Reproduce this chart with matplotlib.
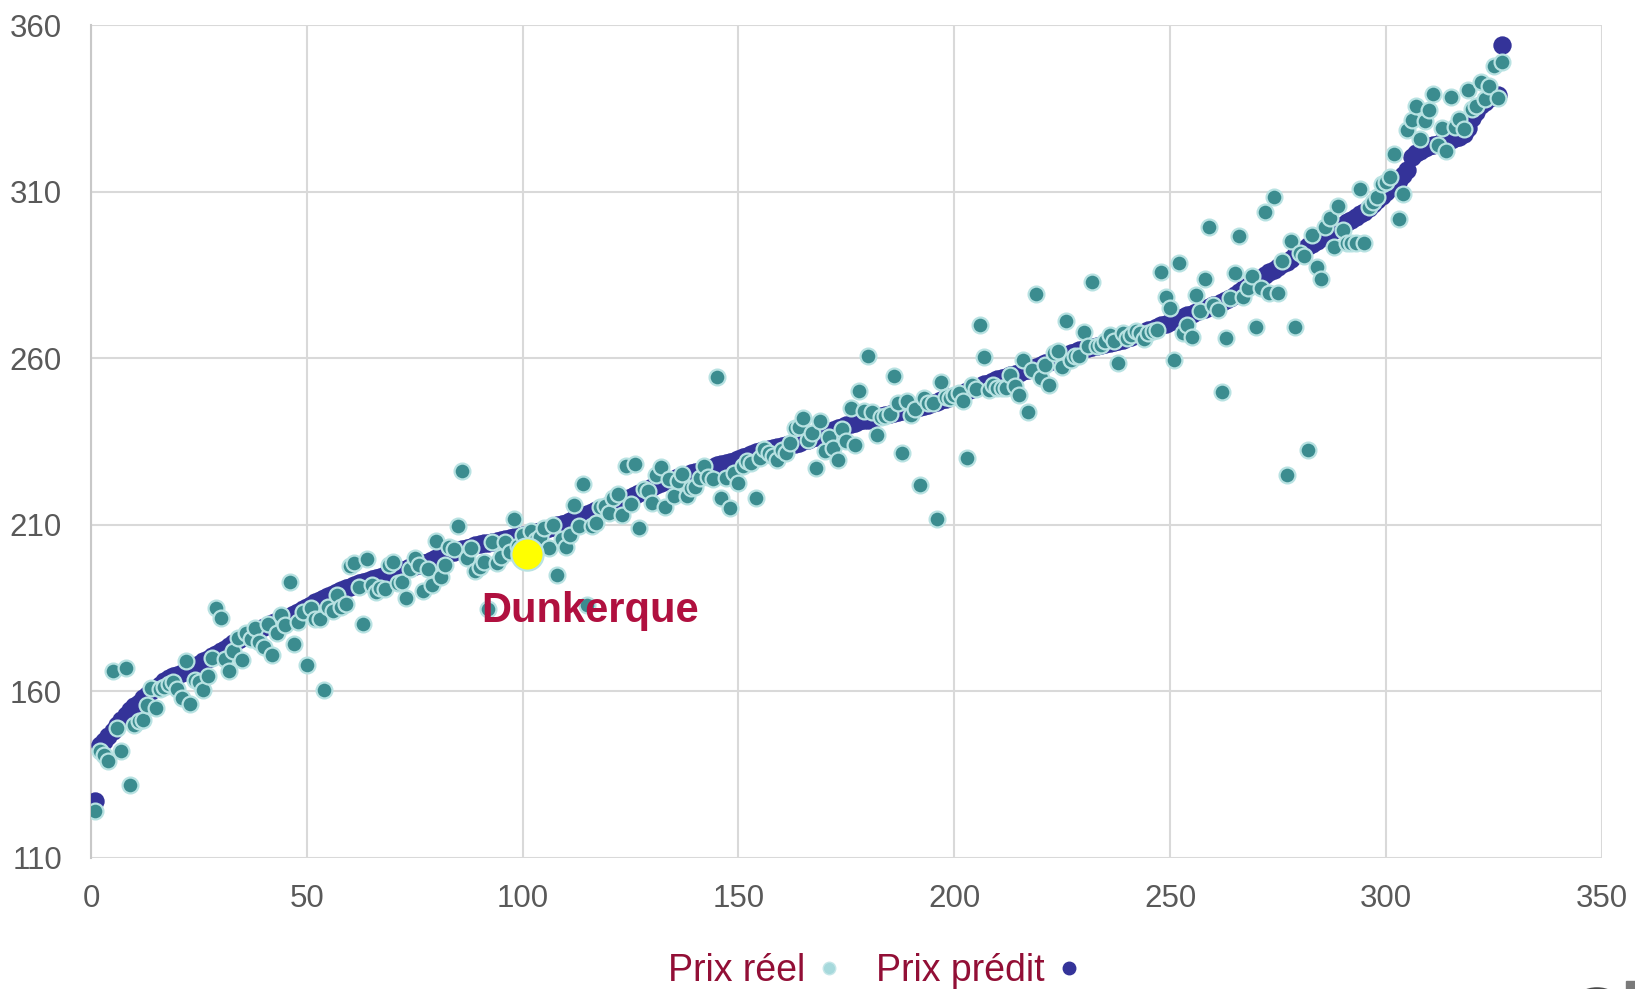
import numpy as np
import matplotlib
matplotlib.use("Agg")
import matplotlib.pyplot as plt
from matplotlib.lines import Line2D
from matplotlib.patches import Circle, Rectangle

# ======= DATOS =======
rang = list(range(1, 328))

prix_predit = [
    127, 144, 145, 146.5, 148, 150, 151.5, 153, 154.5, 155.5,
    156.5, 158, 159, 160, 161, 162, 163, 164, 164.5, 165,
    165.6, 166.2, 166.8, 167.5, 168.3, 169, 169.7, 170.5, 171.2, 172,
    172.8, 173.6, 174.5, 175.3, 176.1, 177, 177.6, 178.2, 178.8, 179.4,
    180, 180.5, 181, 181.5, 182, 182.5, 183.2, 183.9, 184.6, 185.3,
    186, 186.7, 187.3, 188, 188.6, 189.2, 189.7, 190.3, 190.9, 191.4,
    192, 192.4, 192.8, 193.2, 193.6, 194, 194.4, 194.8, 195.2, 195.6,
    196, 196.4, 196.8, 197.2, 197.6, 198, 198.4, 198.9, 199.4, 199.9,
    200.4, 200.9, 201.4, 201.9, 202.3, 202.7, 203.1, 203.4, 203.8, 204.1,
    204.4, 204.6, 204.9, 205.2, 205.5, 205.8, 206, 206.3, 206.5, 206.8,
    207, 207.3, 207.7, 208.1, 208.5, 209, 209.4, 209.8, 210.2, 210.6,
    211.1, 211.6, 212.1, 212.7, 213.2, 213.7, 214.3, 214.8, 215.3, 215.8,
    216.3, 216.8, 217.3, 217.8, 218.3, 218.8, 219.4, 220, 220.6, 221.2,
    221.8, 222.4, 223, 223.4, 223.8, 224.2, 224.6, 225, 225.4, 225.8,
    226.2, 226.6, 227, 227.4, 227.8, 228.2, 228.5, 228.8, 229.2, 229.7,
    230.2, 230.7, 231.2, 231.7, 232.1, 232.5, 232.8, 233, 233.3, 233.5,
    233.8, 234, 234.3, 234.6, 235, 235.4, 235.9, 236.4, 236.9, 237.4,
    237.9, 238.4, 238.9, 239.4, 239.8, 240.2, 240.6, 241, 241.3, 241.6,
    242, 242.3, 242.6, 243, 243.3, 243.6, 244, 244.3, 244.6, 244.9,
    245.2, 245.5, 245.8, 246.1, 246.5, 247, 247.4, 247.8, 248.3, 248.8,
    249.3, 249.7, 250.2, 250.7, 251.2, 251.7, 252.2, 252.7, 253.2, 253.7,
    254.1, 254.5, 254.9, 255.3, 255.7, 256.1, 256.5, 257, 257.5, 258,
    258.5, 259, 259.5, 260, 260.5, 261, 261.5, 262, 262.4, 262.8,
    263.1, 263.4, 263.7, 264, 264.3, 264.6, 264.9, 265.2, 265.6, 266,
    266.4, 266.9, 267.4, 267.9, 268.4, 268.9, 269.4, 269.9, 270.4, 270.9,
    271.4, 271.9, 272.4, 272.9, 273.4, 273.9, 274.4, 274.9, 275.4, 275.9,
    276.4, 276.9, 277.4, 278, 278.9, 279.8, 280.7, 281.6, 282.5, 283.4,
    284.2, 285, 285.8, 286.6, 287.4, 288.2, 289, 289.9, 290.9, 292,
    292.8, 293.6, 294.4, 295.2, 296, 296.8, 297.6, 298.4, 299.2, 300,
    300.8, 301.6, 302.4, 303.2, 304, 305.2, 306.4, 307.6, 308.8, 310,
    311.2, 312.4, 313.6, 315, 316.4, 320.5, 321.5, 322.3, 323, 323.6,
    324, 324.4, 324.8, 325.2, 325.6, 326, 326.5, 327.2, 329, 332,
    334, 336, 337, 338, 338.5, 339, 354,
]

prix_reel = [
    124, 142, 141, 139, 166, 149, 142, 167, 132, 150,
    151, 151.5, 156, 161, 155, 160.7, 161.2, 162.2, 162.7, 160.7,
    158, 169, 156.2, 163.5, 162.7, 160.5, 164.7, 170, 185, 182,
    169.6, 166, 172, 176, 169.3, 177.5, 175.6, 179, 174.8, 173.3,
    180.3, 170.8, 177.5, 182.8, 180, 192.8, 174.3, 180.8, 183.8, 168,
    185, 181.8, 181.8, 160.5, 185.3, 184, 189, 185.3, 186.3, 197.7,
    198.4, 191.3, 180.3, 199.7, 192, 189.8, 191, 190.6, 197.9, 198.9,
    192.5, 192.8, 188, 196.7, 200, 198, 190, 196.8, 192, 205.1,
    194.3, 198, 203.4, 202.7, 209.7, 226.2, 199.9, 202.9, 196, 197.3,
    198.9, 184.8, 204.9, 198.4, 200.4, 204.9, 201.7, 211.7, 203.5, 206.9,
    201.1, 208, 205.5, 206.4, 209.1, 202.9, 209.9, 194.8, 205.7, 203.2,
    206.9, 216, 209.7, 222.3, 185.8, 209.7, 210.4, 215.4, 215.7, 213.4,
    217.9, 219.1, 212.9, 227.5, 216.1, 228.2, 209.1, 220.8, 220.2, 216.4,
    224.9, 227.3, 215.4, 223.8, 218.7, 223, 225.2, 218.7, 220.9, 221.4,
    224, 227.5, 224.2, 223.8, 254.3, 217.9, 224, 214.9, 225.5, 222.5,
    227.5, 229, 228.5, 218, 230, 232.8, 231.5, 230.5, 229.5, 232.5,
    231.5, 234.5, 239, 239.2, 242.2, 235.5, 237.5, 227, 241, 232,
    236.2, 233, 229.5, 238.8, 235, 245.2, 233.8, 250.3, 244.3, 260.6,
    243.8, 237, 242.5, 242.8, 243.2, 254.6, 246.5, 231.5, 247.3, 243,
    244.9, 221.8, 248.1, 246.6, 246.6, 211.7, 252.9, 248.3, 248, 249,
    249.5, 247.3, 230, 252.1, 250.9, 270, 260.3, 250.5, 252.1, 251,
    251, 251, 255.1, 251.6, 248.9, 259.6, 244, 256.6, 279.2, 254,
    258, 252.1, 261.6, 262.3, 257.3, 271.1, 259.6, 260.6, 260.8, 267.9,
    263.6, 283, 263.6, 264.1, 265.1, 267.1, 265.1, 258.6, 267.6, 266.1,
    266.9, 268.3, 267.5, 265.9, 267.6, 268.1, 268.6, 286, 278.4, 275,
    259.6, 288.7, 267.6, 270.1, 266.3, 279, 274.2, 283.9, 299.5, 276,
    274.4, 249.9, 266.1, 278, 285.5, 296.7, 278.4, 281.2, 284.8, 269.4,
    281.2, 303.8, 279.7, 308.5, 279.7, 289.2, 225, 295.1, 269.4, 291.7,
    290.7, 232.5, 297, 287.5, 283.7, 299.5, 302.1, 293.4, 305.8, 298.6,
    294.7, 294.7, 294.7, 310.8, 294.7, 305.3, 306.8, 308.3, 312.3, 312.8,
    314.5, 321.4, 301.8, 309.3, 328.4, 331.6, 335.6, 325.9, 331.2, 334.6,
    339.4, 323.9, 329.1, 322.1, 338.4, 329.4, 331.9, 328.7, 340.4, 334.9,
    335.6, 342.8, 337.9, 341.6, 347.7, 338.2, 348.8,
]

ville = "Dunkerque"
rang_ville = 101
prix_ville = 201.1

x_ticks = [0, 50, 100, 150, 200, 250, 300, 350]
y_ticks = [110, 160, 210, 260, 310, 360]

# ======= ESTILO =======
BLEU = "#343399"
SARCELLE = "#3b8c8f"
BORD = "#b8e2e2"
GRILLE = "#d9d9d9"
TEXTE = "#595959"
ROUGE = "#b0103f"
ROUGE_LEG = "#920f36"

plt.rcParams["font.family"] = ["Liberation Sans", "DejaVu Sans"]

fig = plt.figure(figsize=(16.35, 9.89), dpi=100)
ax = fig.add_axes([0.0557, 0.1325, 0.9239, 0.8422])

ax.scatter(rang, prix_predit, s=175, color=BLEU, linewidths=0, zorder=3)
ax.scatter(rang, prix_reel, s=130, color=SARCELLE, edgecolors=BORD, linewidths=1.6, zorder=4)
ax.scatter([rang_ville], [prix_ville], s=540, color="#ffff00", edgecolors=BORD, linewidths=1.6, zorder=5)
ax.text(115.7, 180.7, ville, color=ROUGE, fontsize=30, fontweight="bold",
        ha="center", va="baseline", zorder=6)

ax.set_xlim(0, 350)
ax.set_ylim(110, 360)
ax.set_xticks(x_ticks)
ax.set_yticks(y_ticks)
ax.grid(True, color=GRILLE, linewidth=1.5, zorder=0)
ax.set_axisbelow(True)
for side in ["top", "right", "bottom"]:
    ax.spines[side].set_visible(False)
ax.spines["left"].set_color("#c8c8c8")
ax.spines["left"].set_linewidth(1.5)
ax.tick_params(length=0, labelsize=22.5, labelcolor=TEXTE)
ax.tick_params(axis="y", pad=21)
ax.tick_params(axis="x", pad=19)

handles = [
    Line2D([], [], linestyle="none", marker="o", markersize=9,
           markerfacecolor="#a6d9dc", markeredgecolor="#c4e6e8", label="Prix réel"),
    Line2D([], [], linestyle="none", marker="o", markersize=9,
           markerfacecolor=BLEU, markeredgecolor=BLEU, label="Prix prédit"),
]
leg = fig.legend(handles=handles, loc="center", bbox_to_anchor=(0.537, 0.018),
                 ncol=2, frameon=False, markerfirst=False, fontsize=27,
                 handletextpad=0.15, columnspacing=0.75, handlelength=1.0)
for t in leg.get_texts():
    t.set_color(ROUGE_LEG)

# logo coupé en bas à droite
fig.patches.append(Circle((1597 / 1635, 1 - 1003 / 989), 18 / 1635, transform=fig.transFigure,
                          fill=False, edgecolor="#4a4a4a", linewidth=7))
fig.patches.append(Rectangle((1626 / 1635, 0), 9 / 1635, 8 / 989, transform=fig.transFigure,
                             color="#7a7a7a"))

fig.savefig("out.png", dpi=100)
